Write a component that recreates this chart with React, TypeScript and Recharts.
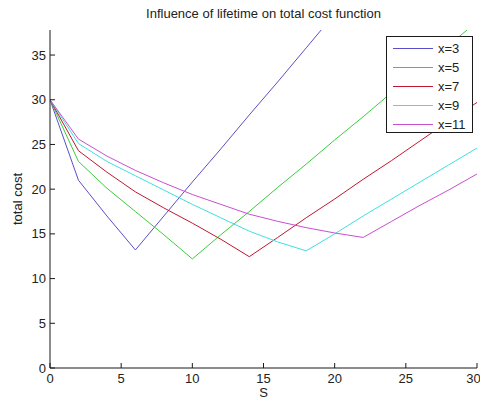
import { LineChart, Line, XAxis, YAxis, Label } from 'recharts';

// S values (x axis) and total cost per lifetime x
const sValues = [0, 2, 4, 6, 8, 10, 12, 14, 16, 18, 20, 22, 24, 26, 28, 30];
const costX3 = [30, 21.0, 17.0, 13.2, 17.0, 20.8, 24.5, 28.3, 32.0, 35.8, 39.6, 43.4, 47.1, 50.9, 54.7, 58.5];
const costX5 = [30, 23.1, 20.1, 17.5, 14.9, 12.2, 14.9, 17.5, 20.2, 22.8, 25.5, 28.1, 30.8, 33.4, 36.1, 38.7];
const costX7 = [30, 24.3, 21.9, 19.7, 17.9, 16.2, 14.4, 12.45, 14.6, 16.8, 18.9, 21.1, 23.2, 25.4, 27.6, 29.7];
const costX9 = [30, 25.1, 23.1, 21.5, 19.9, 18.3, 16.8, 15.3, 14.1, 13.1, 15.0, 17.0, 18.9, 20.8, 22.7, 24.6];
const costX11 = [30, 25.6, 23.7, 22.1, 20.7, 19.4, 18.3, 17.2, 16.4, 15.7, 15.1, 14.6, 16.4, 18.2, 19.9, 21.7];

const xTicks = [0, 5, 10, 15, 20, 25, 30];
const yTicks = [0, 5, 10, 15, 20, 25, 30, 35];

const series = [
    { key: 'x3', name: 'x=3', values: costX3, color: '#5a4fc8' },
    { key: 'x5', name: 'x=5', values: costX5, color: '#3ccc3c' },
    { key: 'x7', name: 'x=7', values: costX7, color: '#c01830' },
    { key: 'x9', name: 'x=9', values: costX9, color: '#3ee0e0' },
    { key: 'x11', name: 'x=11', values: costX11, color: '#c850d0' },
];

const chartData = sValues.map((s, i) => {
    const row: Record<string, number> = { s };
    series.forEach(sr => { row[sr.key] = sr.values[i]; });
    return row;
});

const FONT = '"Liberation Sans", Arial, sans-serif';
const AXIS = '#1a1a1a';
const tickStyle = { fill: '#222', fontSize: 13, fontFamily: FONT };

const YTitle = (props: any) => {
    const { viewBox } = props;
    const cx = 22;
    const cy = viewBox.y + viewBox.height / 2;
    return (
        <text x={cx} y={cy} transform={`rotate(-90, ${cx}, ${cy})`} textAnchor="middle"
            fontSize={13} fontFamily={FONT} fill="#222">
            total cost
        </text>
    );
};

export default function App() {
    return (
        <div style={{ position: 'absolute', left: 0, top: 0, width: 480, height: 404, background: '#fff', fontFamily: FONT }}>
            <LineChart width={480} height={404} data={chartData} margin={{ top: 30, right: 3, bottom: 0, left: 10 }}>
                <XAxis
                    dataKey="s"
                    type="number"
                    domain={[0, 30]}
                    ticks={xTicks}
                    allowDataOverflow
                    height={36}
                    tickSize={-5}
                    tickMargin={11}
                    tick={tickStyle}
                    axisLine={{ stroke: AXIS }}
                    tickLine={{ stroke: AXIS }}
                >
                    <Label value="S" position="insideBottom" offset={7} fontSize={13} fontFamily={FONT} fill="#222" />
                </XAxis>
                <XAxis
                    xAxisId="top"
                    orientation="top"
                    type="number"
                    domain={[0, 30]}
                    ticks={xTicks}
                    allowDataOverflow
                    height={0}
                    tickSize={-5}
                    tick={false}
                    axisLine={{ stroke: AXIS }}
                    tickLine={{ stroke: AXIS }}
                />
                <YAxis
                    type="number"
                    domain={[0, 37.8]}
                    ticks={yTicks}
                    allowDataOverflow
                    width={40}
                    tickSize={-5}
                    tickMargin={9}
                    tick={tickStyle}
                    axisLine={{ stroke: AXIS }}
                    tickLine={{ stroke: AXIS }}
                >
                    <Label content={<YTitle />} />
                </YAxis>
                <YAxis
                    yAxisId="right"
                    orientation="right"
                    type="number"
                    domain={[0, 37.8]}
                    ticks={yTicks}
                    allowDataOverflow
                    width={0}
                    tickSize={-5}
                    tick={false}
                    axisLine={{ stroke: AXIS }}
                    tickLine={{ stroke: AXIS }}
                />
                {series.map(sr => (
                    <Line
                        key={sr.key}
                        type="linear"
                        dataKey={sr.key}
                        name={sr.name}
                        stroke={sr.color}
                        strokeWidth={1}
                        dot={false}
                        isAnimationActive={false}
                    />
                ))}
            </LineChart>
            <div style={{
                position: 'absolute', left: 0, width: 527, top: 6, textAlign: 'center',
                fontSize: 13, lineHeight: '15px', color: '#222', whiteSpace: 'nowrap'
            }}>
                Influence of lifetime on total cost function
            </div>
            <div style={{
                position: 'absolute', left: 386, top: 36, width: 87, height: 97,
                border: `1px solid ${AXIS}`, background: '#fff', boxSizing: 'border-box'
            }}>
                {series.map((sr, i) => (
                    <div key={sr.key} style={{ position: 'absolute', left: 0, top: 2 + i * 19, height: 19, width: 86 }}>
                        <div style={{ position: 'absolute', left: 6, top: 9, width: 40, height: 1, background: sr.color }} />
                        <div style={{ position: 'absolute', left: 51, top: 1, fontSize: 13, lineHeight: '17px', color: '#222' }}>
                            {sr.name}
                        </div>
                    </div>
                ))}
            </div>
        </div>
    );
}
